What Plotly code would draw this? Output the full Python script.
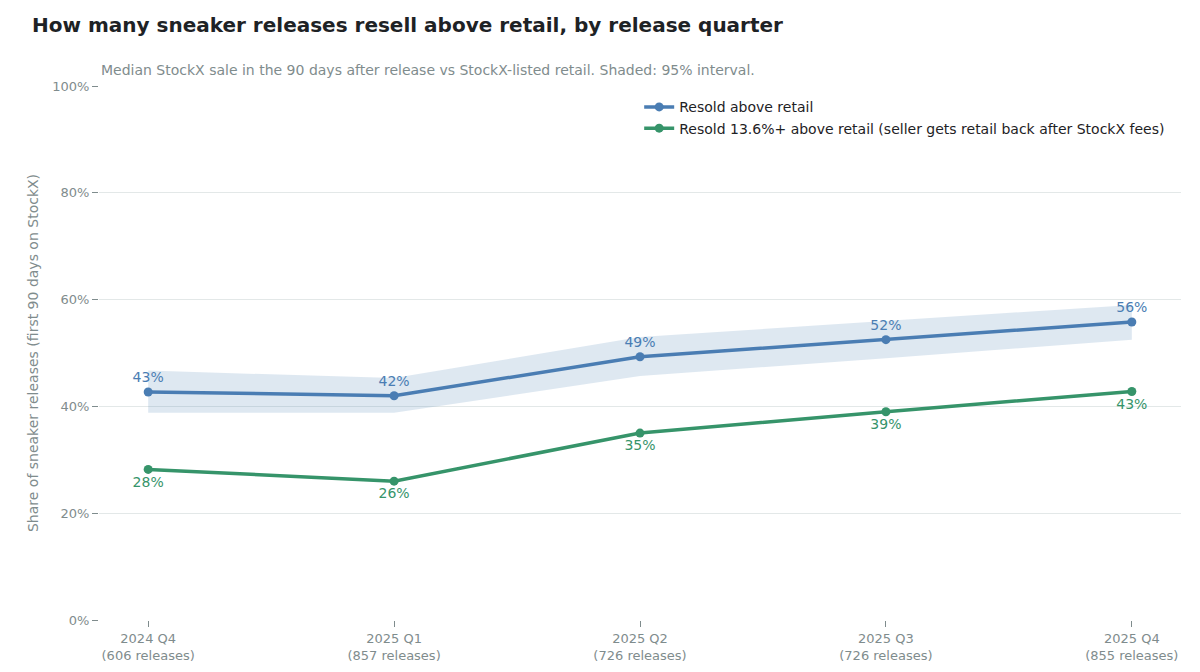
import plotly.graph_objects as go

quarters = ["2024 Q4<br>(606 releases)", "2025 Q1<br>(857 releases)", "2025 Q2<br>(726 releases)",
            "2025 Q3<br>(726 releases)", "2025 Q4<br>(855 releases)"]
above = [42.7, 42.0, 49.3, 52.5, 55.8]
above_hi = [46.7, 45.3, 53.0, 56.0, 59.0]
above_lo = [38.8, 38.8, 45.7, 49.0, 52.5]
above_fee = [28.2, 26.0, 35.0, 39.0, 42.8]
y_ticks = [0, 20, 40, 60, 80, 100]

blue = "#4a7db3"
green = "#36946a"
xs = list(range(len(quarters)))

fig = go.Figure()
fig.add_trace(go.Scatter(x=xs + xs[::-1], y=above_hi + above_lo[::-1], fill="toself", mode="lines",
                         fillcolor="rgba(74,125,179,0.18)", line=dict(width=0),
                         hoverinfo="skip", showlegend=False))
fig.add_trace(go.Scatter(x=xs, y=above, mode="lines+markers+text", name="Resold above retail",
                         line=dict(color=blue, width=3.5), marker=dict(size=9),
                         text=[f"{round(v)}%" for v in above], textposition="top center",
                         textfont=dict(color=blue, size=14)))
fig.add_trace(go.Scatter(x=xs, y=above_fee, mode="lines+markers+text",
                         name="Resold 13.6%+ above retail (seller gets retail back after StockX fees)",
                         line=dict(color=green, width=3.5), marker=dict(size=9),
                         text=[f"{round(v)}%" for v in above_fee], textposition="bottom center",
                         textfont=dict(color=green, size=14)))

fig.update_layout(
    width=1200, height=672, plot_bgcolor="white", paper_bgcolor="white",
    font=dict(family="DejaVu Sans", color="#7f8c8d", size=13),
    margin=dict(l=91, r=27, t=78, b=60),
    title=dict(text="<b>How many sneaker releases resell above retail, by release quarter</b>",
               x=0.02, xanchor="left", y=0.985, yanchor="top",
               font=dict(size=20, color="#1e2225")),
    legend=dict(x=0.99, xanchor="right", y=0.99, yanchor="top", bgcolor="rgba(255,255,255,0)",
                font=dict(size=14, color="#1e2225")),
    annotations=[dict(text="Median StockX sale in the 90 days after release vs StockX-listed retail. Shaded: 95% interval.",
                      xref="paper", yref="paper", x=0, y=1.012, xanchor="left", yanchor="bottom",
                      showarrow=False, font=dict(size=14, color="#7f8c8d"))],
)
fig.update_xaxes(tickvals=xs, ticktext=quarters, range=[-0.2, 4.2], showgrid=False,
                 ticks="outside", ticklen=6, tickcolor="#7f8c8d", zeroline=False,
                 tickfont=dict(size=13), automargin=False)
fig.update_yaxes(range=[0, 100], tickvals=y_ticks, ticktext=[f"{v}%" for v in y_ticks],
                 gridcolor="#e3e8e8", ticks="outside", ticklen=6, tickcolor="#7f8c8d",
                 zeroline=False, automargin=False,
                 title=dict(text="Share of sneaker releases (first 90 days on StockX)",
                            font=dict(size=14), standoff=10), tickfont=dict(size=13))
fig.write_html("out.html")
